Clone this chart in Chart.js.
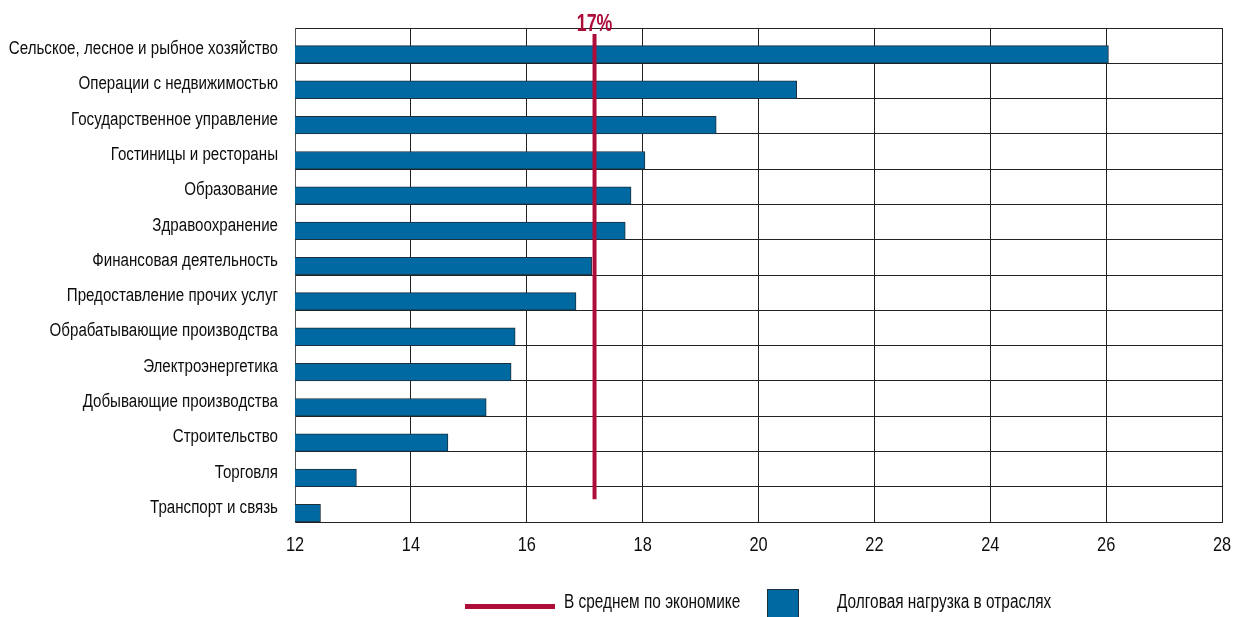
<!DOCTYPE html>
<html><head><meta charset="utf-8">
<script src="https://cdn.jsdelivr.net/npm/chart.js@4/dist/chart.umd.min.js"></script>
<style>html,body{margin:0;padding:0;background:#fff}#wrap{width:1233px;height:617px}</style>
</head><body><div id="wrap"><canvas id="c" width="1233" height="617"></canvas></div>
<script>
const categories = ["Сельское, лесное и рыбное хозяйство","Операции с недвижимостью","Государственное управление","Гостиницы и рестораны","Образование","Здравоохранение","Финансовая деятельность","Предоставление прочих услуг","Обрабатывающие производства","Электроэнергетика","Добывающие производства","Строительство","Торговля","Транспорт и связь"];
const debtLoad = [26.04,20.66,19.27,18.04,17.80,17.70,17.12,16.85,15.80,15.73,15.30,14.64,13.06,12.44];
const economyAverage = 17.17;
const averageLabel = "17%";
const xTicks = [12,14,16,18,20,22,24,26,28];
const legendLabels = ["В среднем по экономике","Долговая нагрузка в отраслях"];

const FONT = "'Liberation Sans',Arial,sans-serif";
const BLUE = '#0069a1', RED = '#ae0d3a', TEXT = '#0d0d0d', EDGE = '#1b2f3d';

function condText(ctx, text, x, y, font, sx, align, color){
  ctx.save();
  ctx.font = font; ctx.fillStyle = color; ctx.textAlign = align; ctx.textBaseline = 'alphabetic';
  ctx.translate(x, y); ctx.scale(sx, 1);
  ctx.fillText(text, 0, 0);
  ctx.restore();
}

const overlay = {
  id:'overlay',
  afterDatasetsDraw(chart){
    const {ctx, chartArea:a, scales:{x,y}} = chart;
    categories.forEach((c,i)=>{
      condText(ctx, c, a.left - 17, y.getPixelForValue(i) + 8.5, "18px " + FONT, 0.84, 'right', TEXT);
    });
    xTicks.forEach(v=>{
      condText(ctx, String(v), x.getPixelForValue(v), a.bottom + 29, "21px " + FONT, 0.78, 'center', TEXT);
    });
    const px = x.getPixelForValue(economyAverage);
    ctx.save();
    ctx.strokeStyle = RED; ctx.lineWidth = 4;
    ctx.beginPath();
    ctx.moveTo(px, a.top + 6);
    ctx.lineTo(px, y.getPixelForValue(categories.length-1) - 5);
    ctx.stroke();
    ctx.restore();
    condText(ctx, averageLabel, px, a.top + 3, "bold 24px " + FONT, 0.74, 'center', RED);
    ctx.save();
    ctx.fillStyle = RED; ctx.fillRect(465, 604, 90, 5);
    ctx.fillStyle = BLUE; ctx.fillRect(767, 589, 32, 28);
    ctx.strokeStyle = EDGE; ctx.lineWidth = 1; ctx.strokeRect(767.5, 589.5, 31, 28);
    ctx.restore();
    condText(ctx, legendLabels[0], 564, 608, "20px " + FONT, 0.77, 'left', TEXT);
    condText(ctx, legendLabels[1], 837, 608, "20px " + FONT, 0.77, 'left', TEXT);
  }
};

new Chart(document.getElementById('c'), {
  type:'bar',
  data:{
    labels: categories,
    datasets:[
      {label:'', data: categories.map(()=>null), backgroundColor:'rgba(0,0,0,0)'},
      {label: legendLabels[1], data: debtLoad, backgroundColor: BLUE, borderColor: EDGE, borderWidth:1, borderSkipped:false}
    ]
  },
  options:{
    indexAxis:'y', responsive:false, animation:false,
    devicePixelRatio:1,
    layout:{padding:{top:28,left:0,right:11,bottom:0}},
    datasets:{bar:{categoryPercentage:1, barPercentage:1}},
    plugins:{legend:{display:false}, tooltip:{enabled:false}},
    scales:{
      x:{min:12,max:28,
        afterBuildTicks(s){ s.ticks = xTicks.map(v=>({value:v})); },
        afterFit(s){ s.height = 95; },
        grid:{color:'#222', lineWidth:1, drawTicks:false},
        border:{color:'#222'},
        ticks:{display:false}
      },
      y:{
        afterFit(s){ s.width = 295; },
        grid:{color:'#222', lineWidth:1, drawTicks:false, offset:true},
        border:{color:'#555'},
        ticks:{display:false}
      }
    }
  },
  plugins:[overlay]
});
</script></body></html>
